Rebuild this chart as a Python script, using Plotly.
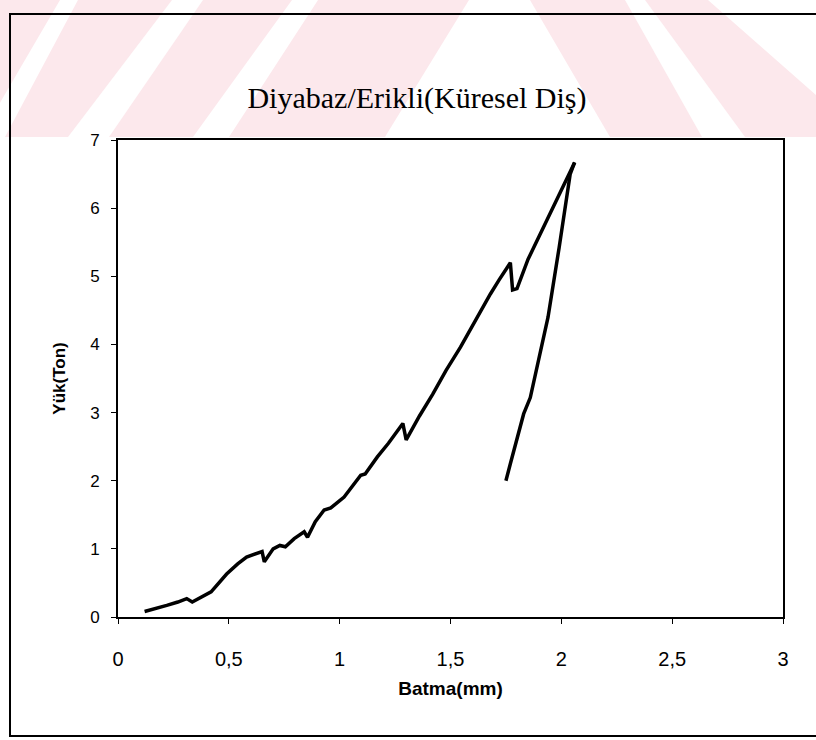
import plotly.graph_objects as go

# Loading branch (Batma mm, Yük Ton)
load_x = [0.12, 0.17, 0.22, 0.27, 0.31, 0.335, 0.38, 0.42, 0.49, 0.54, 0.58, 0.63, 0.65, 0.66,
          0.70, 0.73, 0.755, 0.795, 0.84, 0.855, 0.89, 0.93, 0.96, 1.02, 1.06, 1.095, 1.115, 1.17,
          1.22, 1.285, 1.30, 1.36, 1.42, 1.48, 1.545, 1.62, 1.68, 1.72, 1.77, 1.78, 1.80, 1.85,
          1.92, 1.99, 2.06]
load_y = [0.08, 0.12, 0.17, 0.22, 0.27, 0.22, 0.30, 0.37, 0.63, 0.78, 0.88, 0.93, 0.96, 0.81,
          1.00, 1.05, 1.03, 1.15, 1.25, 1.17, 1.40, 1.57, 1.60, 1.76, 1.92, 2.08, 2.10, 2.35,
          2.55, 2.84, 2.60, 2.95, 3.27, 3.62, 3.96, 4.40, 4.74, 4.95, 5.20, 4.80, 4.82, 5.25,
          5.72, 6.20, 6.67]

# Unloading branch
unload_x = [2.06, 2.04, 1.99, 1.94, 1.86, 1.83, 1.77, 1.75]
unload_y = [6.67, 6.50, 5.42, 4.40, 3.22, 2.98, 2.25, 2.00]

x_ticks = [0, 0.5, 1, 1.5, 2, 2.5, 3]
y_ticks = [0, 1, 2, 3, 4, 5, 6, 7]

W, H = 816, 740
L, R, T, B = 118, 33, 140, 123
PW, PH = W - L - R, H - T - B


def fx(p):
    return (p - L) / PW


def fy(p):
    return (H - B - p) / PH


fig = go.Figure()
line_style = dict(color="black", width=3.5)
fig.add_trace(go.Scatter(x=load_x, y=load_y, mode="lines", line=line_style, showlegend=False))
fig.add_trace(go.Scatter(x=unload_x, y=unload_y, mode="lines", line=line_style, showlegend=False))

shapes = []
pink = "#fce8ec"
# watermark band
shapes.append(dict(type="rect", xref="paper", yref="paper", x0=fx(0), x1=fx(W), y0=fy(137), y1=fy(0),
                   fillcolor=pink, line=dict(width=0), layer="below"))


def poly(pts, color):
    d = "M " + " L ".join(f"{fx(a):.4f},{fy(b):.4f}" for a, b in pts) + " Z"
    return dict(type="path", xref="paper", yref="paper", path=d, fillcolor=color,
                line=dict(width=0), layer="below")


white = "white"
stripes = [
    [(60, 0), (78, 0), (5, 137), (-20, 137)],
    [(172, 0), (203, 0), (109, 137), (68, 137)],
    [(292, 0), (318, 0), (229, 137), (193, 137)],
    [(469, 0), (530, 0), (610, 137), (385, 137)],
    [(625, 0), (645, 0), (745, 137), (702, 137)],
    [(708, 0), (816, 0), (816, 95)],
]
for s in stripes:
    shapes.append(poly(s, white))

# outer frame
shapes.append(dict(type="rect", xref="paper", yref="paper", x0=fx(10), x1=fx(840), y0=fy(736), y1=fy(14),
                   line=dict(color="black", width=2), fillcolor="rgba(0,0,0,0)", layer="above"))

fig.update_layout(
    width=W, height=H,
    margin=dict(l=L, r=R, t=T, b=B),
    paper_bgcolor="white", plot_bgcolor="white",
    separators=", ",
    title=dict(text="Diyabaz/Erikli(Küresel Diş)", x=0.511, xanchor="center", y=1 - 97 / H,
               yanchor="middle", font=dict(family="Liberation Serif, Times New Roman, serif", size=30,
                                           color="black")),
    shapes=shapes,
    font=dict(family="Liberation Sans, Arial, sans-serif", color="black"),
)
fig.update_xaxes(range=[0, 3], tickvals=x_ticks, showgrid=False, zeroline=False,
                 showline=True, linecolor="black", linewidth=2, mirror=True,
                 ticks="outside", ticklen=5, tickcolor="black", tickwidth=1,
                 tickfont=dict(size=20), ticklabelstandoff=18,
                 title=dict(text="<b>Batma(mm)</b>", font=dict(size=19), standoff=13))
fig.update_yaxes(range=[0, 7], tickvals=y_ticks, showgrid=False, zeroline=False,
                 showline=True, linecolor="black", linewidth=2, mirror=True,
                 ticks="outside", ticklen=5, tickcolor="black", tickwidth=1,
                 tickfont=dict(size=17), ticklabelstandoff=8,
                 title=dict(text="<b>Yük(Ton)</b>", font=dict(size=17), standoff=20))

fig.write_html("out.html", config={"displayModeBar": False},
               post_script="document.body.style.margin='0';document.body.style.overflow='hidden';")
